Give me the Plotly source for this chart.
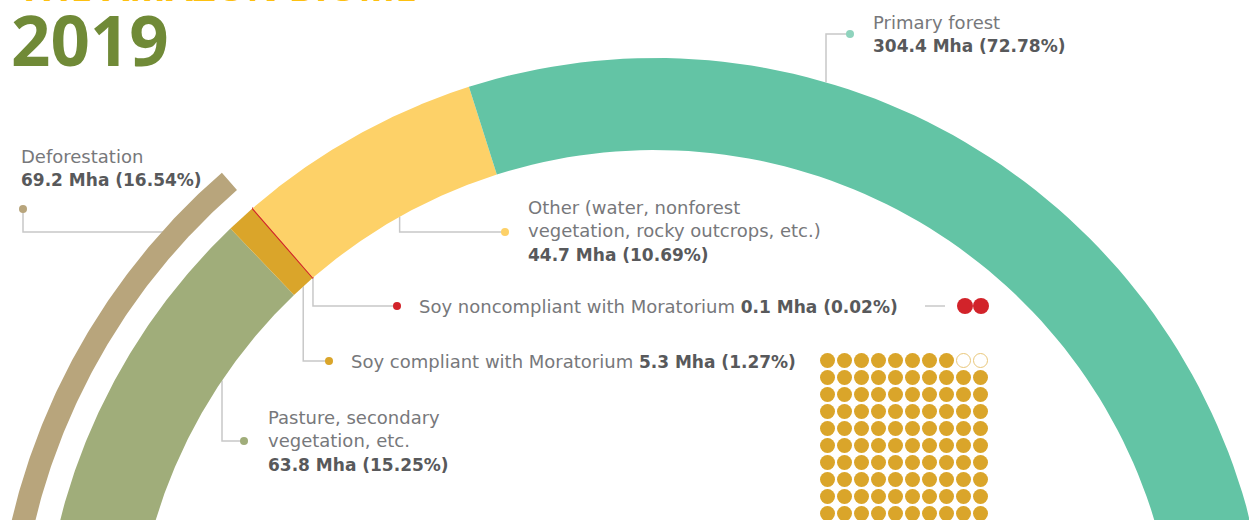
import numpy as np
import plotly.graph_objects as go

# land use in the Amazon biome, 2019
categories = ["Pasture, secondary<br>vegetation, etc.", "Soy compliant with Moratorium",
              "Soy noncompliant with Moratorium",
              "Other (water, nonforest<br>vegetation, rocky outcrops, etc.)", "Primary forest"]
area_mha = [63.8, 5.3, 0.1, 44.7, 304.4]
share_pct = [15.25, 1.27, 0.02, 10.69, 72.78]
colors = ["#A0AD7A", "#DAA52A", "#D2232A", "#FDD168", "#63C4A5"]
dot_colors = ["#A0AD7A", "#DAA52A", "#D2232A", "#FDD168", "#8FD3BD"]

defor_label = "Deforestation"
defor_mha = 69.2
defor_pct = 16.54
year = "2019"
waffle_total = 100

# layout of the arc (pixel space)
CX, CY = 655, 672
R_IN, R_OUT = 522, 614
D_IN, D_OUT = 638, 661
A_START, A_SPAN = 13.0, 218.0

TEXT = "#77787B"
BOLD = "#58595B"
GRID = "#C8C8C8"
FONT = "DejaVu Sans"


def pt(r, a):
    t = np.radians(a)
    return CX - r * np.cos(t), CY - r * np.sin(t)


def ring(a0, a1, r0, r1):
    aa = np.linspace(a0, a1, 120)
    xo, yo = pt(r1, aa)
    xi, yi = pt(r0, aa[::-1])
    return np.r_[xo, xi, xo[0]], np.r_[yo, yi, yo[0]]


def inner_y(x, r):
    return CY - np.sqrt(r ** 2 - (x - CX) ** 2)


fig = go.Figure()

# leader lines first so the arcs sit on top
total = sum(area_mha)
cum = np.cumsum([0] + area_mha) / total
angles = A_START + A_SPAN * cum
mid = (angles[:-1] + angles[1:]) / 2
x_soy = pt(R_IN, mid[1])[0]
x_non = pt(R_IN, angles[3])[0]
x_oth = pt(R_IN, mid[3])[0]
dx_def = np.sqrt(((D_IN + D_OUT) / 2) ** 2 - (CY - 232) ** 2)
leaders = [
    ([244, 222, 222], [441, 441, inner_y(222, R_IN)], dot_colors[0]),
    ([329, x_soy, x_soy], [361, 361, inner_y(x_soy, R_IN)], dot_colors[1]),
    ([397, x_non, x_non], [306, 306, inner_y(x_non, R_IN)], dot_colors[2]),
    ([505, x_oth, x_oth], [232, 232, inner_y(x_oth, R_IN)], dot_colors[3]),
    ([850, 826, 826], [34, 34, inner_y(826, R_OUT)], dot_colors[4]),
    ([23, 23, CX - dx_def], [209, 232, 232], "#B8A57C"),
]
for lx, ly, dc in leaders:
    fig.add_trace(go.Scatter(x=lx, y=ly, mode="lines", line=dict(color=GRID, width=1.5),
                             hoverinfo="skip"))
    fig.add_trace(go.Scatter(x=[lx[0]], y=[ly[0]], mode="markers",
                             marker=dict(size=8, color=dc), hoverinfo="skip"))

for i in range(len(categories)):
    x, y = ring(angles[i], angles[i + 1], R_IN, R_OUT)
    fig.add_trace(go.Scatter(x=x, y=y, mode="lines", fill="toself", fillcolor=colors[i],
                             line=dict(color=colors[i], width=1.2 if area_mha[i] < 1 else 0),
                             hoverinfo="skip"))

# deforestation = pasture + soy, outer thin arc
x, y = ring(A_START, A_START + A_SPAN * defor_mha / total, D_IN, D_OUT)
fig.add_trace(go.Scatter(x=x, y=y, mode="lines", fill="toself", fillcolor="#B8A57C",
                         line=dict(width=0), hoverinfo="skip"))

# waffle of soy: 100 dots
n_non = int(round(waffle_total * area_mha[2] / (area_mha[1] + area_mha[2])))
idx = np.arange(waffle_total)
row, col = idx // 10, idx % 10
empty = (row == 0) & (col >= 10 - n_non)
wx = 827.5 + col * 17
wy = 360.5 + row * 17
fig.add_trace(go.Scatter(x=wx[~empty], y=wy[~empty], mode="markers",
                         marker=dict(size=15, color=colors[1]), hoverinfo="skip"))
fig.add_trace(go.Scatter(x=wx[empty], y=wy[empty], mode="markers",
                         marker=dict(size=14, color="white", line=dict(color="#E9C77A", width=1)),
                         hoverinfo="skip"))
fig.add_trace(go.Scatter(x=[925, 945], y=[306, 306], mode="lines",
                         line=dict(color=GRID, width=1.5), hoverinfo="skip"))
fig.add_trace(go.Scatter(x=965 + np.arange(n_non) * 16, y=[306] * n_non, mode="markers",
                         marker=dict(size=16, color=colors[2]), hoverinfo="skip"))


def val(mha, pct):
    return (f"<span style='color:{BOLD};font-size:17px'>"
            f"<b>{mha:g} Mha ({pct:.2f}%)</b></span>")


ann = [
    (266, 441, f"{categories[0]}<br>{val(area_mha[0], share_pct[0])}"),
    (349, 361, f"{categories[1]} {val(area_mha[1], share_pct[1])}"),
    (417, 306, f"{categories[2]} {val(area_mha[2], share_pct[2])}"),
    (526, 231, f"{categories[3]}<br>{val(area_mha[3], share_pct[3])}"),
    (871, 34, f"{categories[4]}<br>{val(area_mha[4], share_pct[4])}"),
    (19, 168, f"{defor_label}<br>{val(defor_mha, defor_pct)}"),
]
annotations = [dict(x=x, y=y, text=t, xref="x", yref="y", xanchor="left", yanchor="middle",
                    align="left", showarrow=False, font=dict(family=FONT, size=18, color=TEXT))
               for x, y, t in ann]
annotations.append(dict(x=9, y=39, text=f"<b>{year}</b>", xref="x", yref="y", xanchor="left",
                        yanchor="middle", showarrow=False,
                        font=dict(family="Open Sans", size=69, color="#708A37", weight=800)))
# title line above, mostly outside the frame in the reference
annotations.append(dict(x=16, y=1 + 15 / 520, text="<b>THE AMAZON BIOME</b>", xref="x",
                        yref="paper", xanchor="left", yanchor="middle", showarrow=False,
                        font=dict(family="Open Sans", size=39, color="#FDC010")))

fig.update_layout(
    width=1249, height=520,
    margin=dict(l=0, r=0, t=0, b=0),
    showlegend=False,
    paper_bgcolor="white", plot_bgcolor="white",
    annotations=annotations,
)
fig.update_xaxes(range=[0, 1249], visible=False, fixedrange=True)
fig.update_yaxes(range=[520, 0], visible=False, fixedrange=True)

fig.write_html("out.html", config={"displayModeBar": False},
               post_script="document.body.style.margin='0';")
